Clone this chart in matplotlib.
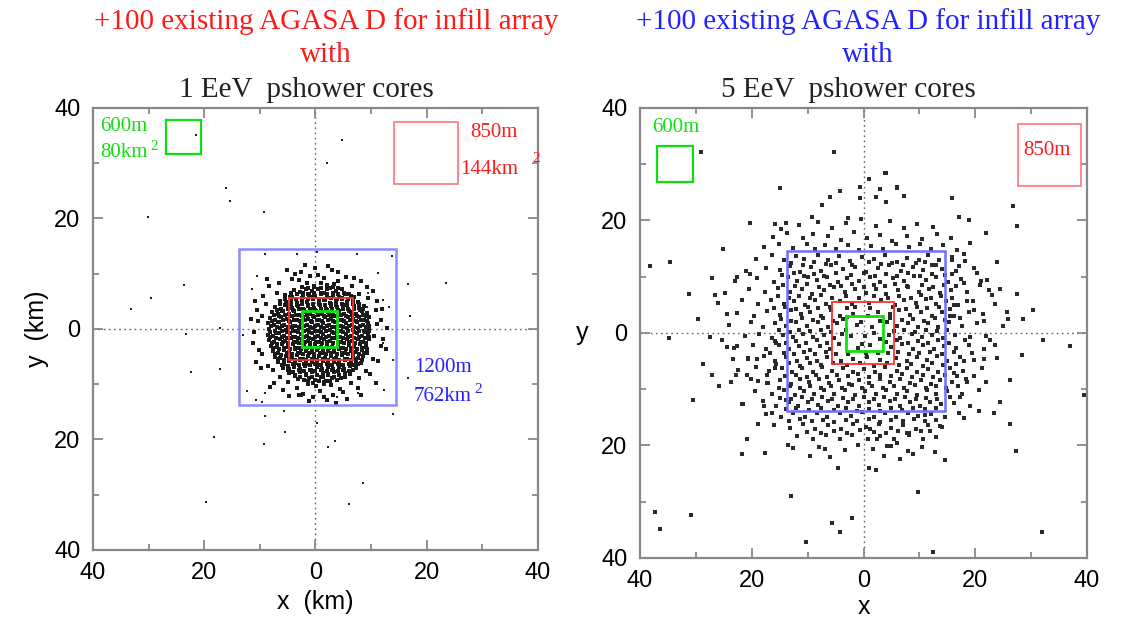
import numpy as np
import matplotlib.pyplot as plt
from matplotlib.patches import Rectangle
from matplotlib.ticker import FuncFormatter, MultipleLocator

# shower core positions (km)
# 1 EeV panel: dense blob near the centre + a few far ones
core_1eev = [
    (-1.6, 8.3), (-0.3, 7.8), (0.9, 8.4), (2.1, 7.9), (3.3, 8.2), (-4.2, 9.1), (5.5, 9.4), (0.4, 9.8), (-2.6, 10.3), (2.9, 10.6),
    (-3.0, 8.9), (1.6, 9.2), (4.0, 8.7), (-1.0, 9.5),
    (-3.9, 7.1), (-2.8, 6.7), (-1.7, 7.3), (-0.6, 6.8), (0.5, 7.2), (1.5, 6.6), (2.6, 7.4), (3.7, 6.9), (4.8, 7.2), (6.6, 7.7),
    (-5.4, 6.1), (-4.3, 5.8), (-3.3, 6.3), (-2.2, 5.7), (-1.2, 6.2), (-0.1, 5.9), (1.0, 6.4), (2.0, 5.8), (3.1, 6.2), (4.2, 5.7),
    (5.3, 6.3), (6.4, 5.9), (7.9, 6.4), (-7.0, 6.6),
    (-6.4, 5.1), (-5.3, 4.8), (-4.4, 5.3), (-3.4, 4.7), (-2.5, 5.2), (-1.5, 4.9), (-0.5, 5.4), (0.6, 4.8), (1.6, 5.2), (2.6, 4.7),
    (3.7, 5.1), (4.7, 5.4), (5.7, 4.8), (6.8, 5.2), (7.7, 4.9), (9.4, 5.6),
    (-7.2, 4.0), (-6.2, 3.7), (-5.2, 4.3), (-4.2, 3.8), (-3.2, 4.2), (-2.3, 3.6), (-1.3, 4.1), (-0.3, 3.8), (0.8, 4.3), (1.8, 3.7),
    (2.8, 4.2), (3.9, 3.9), (4.9, 4.3), (5.9, 3.7), (6.9, 4.1), (7.9, 3.8), (8.8, 4.2), (-8.9, 4.5),
    (-7.8, 3.0), (-6.8, 2.7), (-5.8, 3.2), (-4.8, 2.8), (-3.9, 3.3), (-2.9, 2.6), (-1.9, 3.1), (-0.9, 2.8), (0.1, 3.2), (1.1, 2.7),
    (2.2, 3.1), (3.2, 2.6), (4.2, 3.2), (5.2, 2.8), (6.3, 3.1), (7.3, 2.7), (8.3, 3.2), (9.2, 2.9), (-9.6, 2.4), (10.8, 3.4),
    (-8.1, 2.0), (-7.2, 1.7), (-6.2, 2.2), (-5.2, 1.8), (-4.3, 2.3), (-3.3, 1.6), (-2.3, 2.1), (-1.3, 1.8), (-0.3, 2.2), (0.7, 1.7),
    (1.7, 2.1), (2.7, 1.8), (3.8, 2.3), (4.8, 1.6), (5.8, 2.1), (6.8, 1.8), (7.8, 2.2), (8.8, 1.7), (9.6, 2.1),
    (-8.5, 1.0), (-7.5, 0.7), (-6.5, 1.2), (-5.6, 0.8), (-4.6, 1.3), (-3.6, 0.6), (-2.6, 1.1), (-1.6, 0.8), (-0.6, 1.2), (0.4, 0.7),
    (1.4, 1.1), (2.4, 0.8), (3.5, 1.3), (4.5, 0.6), (5.5, 1.1), (6.5, 0.8), (7.5, 1.2), (8.5, 0.7), (9.5, 1.0), (-10.3, 1.5), (11.1, 0.9),
    (-8.3, 0.0), (-7.3, -0.3), (-6.3, 0.2), (-5.3, -0.2), (-4.3, 0.3), (-3.4, -0.4), (-2.4, 0.1), (-1.4, -0.2), (-0.4, 0.2), (0.6, -0.3),
    (1.6, 0.1), (2.6, -0.2), (3.6, 0.3), (4.6, -0.4), (5.7, 0.1), (6.7, -0.2), (7.7, 0.2), (8.7, -0.3), (9.7, 0.1),
    (-8.6, -1.0), (-7.6, -1.3), (-6.6, -0.8), (-5.6, -1.2), (-4.6, -0.7), (-3.6, -1.4), (-2.6, -0.9), (-1.6, -1.2), (-0.6, -0.8), (0.4, -1.3),
    (1.4, -0.9), (2.4, -1.2), (3.4, -0.7), (4.4, -1.4), (5.4, -0.9), (6.4, -1.2), (7.4, -0.8), (8.4, -1.3), (9.4, -0.9), (10.6, -1.2),
    (-8.4, -2.0), (-7.4, -2.3), (-6.4, -1.8), (-5.4, -2.2), (-4.4, -1.7), (-3.4, -2.4), (-2.4, -1.9), (-1.4, -2.2), (-0.4, -1.8), (0.6, -2.3),
    (1.6, -1.9), (2.6, -2.2), (3.6, -1.7), (4.6, -2.4), (5.6, -1.9), (6.6, -2.2), (7.6, -1.8), (8.6, -2.3), (9.6, -1.9), (-11.2, -2.5),
    (-8.0, -3.0), (-7.0, -3.3), (-6.0, -2.8), (-5.0, -3.2), (-4.0, -2.7), (-3.0, -3.4), (-2.0, -2.9), (-1.0, -3.2), (0.0, -2.8), (1.0, -3.3),
    (2.0, -2.9), (3.0, -3.2), (4.0, -2.7), (5.0, -3.4), (6.0, -2.9), (7.0, -3.2), (8.0, -2.8), (9.0, -3.3), (11.8, -3.1),
    (-7.7, -4.0), (-6.7, -4.3), (-5.7, -3.8), (-4.7, -4.2), (-3.7, -3.7), (-2.7, -4.4), (-1.7, -3.9), (-0.7, -4.2), (0.3, -3.8), (1.3, -4.3),
    (2.3, -3.9), (3.3, -4.2), (4.3, -3.7), (5.3, -4.4), (6.3, -3.9), (7.3, -4.2), (8.3, -3.8), (9.2, -4.3), (-9.6, -4.6),
    (-7.3, -5.0), (-6.3, -5.3), (-5.3, -4.8), (-4.3, -5.2), (-3.3, -4.7), (-2.3, -5.4), (-1.3, -4.9), (-0.3, -5.2), (0.7, -4.8), (1.7, -5.3),
    (2.7, -4.9), (3.7, -5.2), (4.7, -4.7), (5.7, -5.4), (6.7, -4.9), (7.7, -5.2), (8.6, -4.8), (10.3, -5.5),
    (-6.7, -6.0), (-5.7, -6.3), (-4.7, -5.8), (-3.7, -6.2), (-2.7, -5.7), (-1.7, -6.4), (-0.7, -5.9), (0.3, -6.2), (1.3, -5.8), (2.3, -6.3),
    (3.3, -5.9), (4.3, -6.2), (5.3, -5.7), (6.3, -6.4), (7.3, -5.9), (8.1, -6.2), (-8.6, -6.7),
    (-5.8, -7.0), (-4.8, -7.3), (-3.8, -6.8), (-2.8, -7.2), (-1.8, -6.7), (-0.8, -7.4), (0.2, -6.9), (1.2, -7.2), (2.2, -6.8), (3.2, -7.3),
    (4.2, -6.9), (5.2, -7.2), (6.2, -6.7), (7.2, -7.1), (9.0, -7.6), (-7.6, -7.5),
    (-4.7, -8.0), (-3.7, -8.3), (-2.7, -7.8), (-1.7, -8.2), (-0.7, -7.7), (0.3, -8.4), (1.3, -7.9), (2.3, -8.2), (3.3, -7.8), (4.3, -8.3),
    (5.3, -7.9), (6.2, -8.1), (-6.3, -8.6), (7.8, -8.8),
    (-3.1, -9.0), (-2.1, -9.3), (-1.1, -8.8), (-0.1, -9.2), (0.9, -8.7), (1.9, -9.4), (2.9, -8.9), (3.9, -9.2), (4.6, -8.8), (-5.0, -9.6), (6.3, -9.7),
    (-1.3, -10.0), (0.1, -10.3), (1.5, -9.9), (2.8, -10.2), (-3.3, -10.6), (4.4, -10.8), (0.8, -11.3), (-2.2, -11.7), (3.2, -11.9),
    (-0.5, -12.4), (2.0, -12.8), (-4.8, -12.2), (5.6, -12.6),
]
# second pass between the rows above (the blob is very crowded)
core_1eev_fill = [
    (-2.4, 7.6), (-1.3, 7.4), (-0.2, 7.6), (1.0, 7.5), (2.1, 7.3), (3.2, 7.6), (4.1, 7.5),
    (-4.4, 6.5), (-3.3, 6.4), (-2.3, 6.6), (-1.3, 6.4), (-0.2, 6.6), (0.9, 6.5), (2.0, 6.3), (3.1, 6.6), (4.1, 6.4), (5.2, 6.6), (6.0, 6.4),
    (-5.5, 5.5), (-4.5, 5.7), (-3.5, 5.4), (-2.5, 5.6), (-1.4, 5.4), (-0.4, 5.7), (0.7, 5.5), (1.7, 5.3), (2.8, 5.6), (3.8, 5.4),
    (4.8, 5.6), (5.9, 5.5), (6.9, 5.7),
    (-6.4, 4.5), (-5.4, 4.3), (-4.4, 4.6), (-3.4, 4.4), (-2.4, 4.6), (-1.4, 4.4), (-0.4, 4.6), (0.7, 4.5), (1.7, 4.3), (2.7, 4.6),
    (3.7, 4.4), (4.7, 4.6), (5.7, 4.4), (6.7, 4.6), (7.8, 4.5),
    (-7.0, 3.5), (-6.0, 3.3), (-5.0, 3.6), (-4.0, 3.4), (-3.0, 3.6), (-2.0, 3.4), (-1.0, 3.6), (0.0, 3.4), (1.0, 3.6), (2.0, 3.4),
    (3.0, 3.6), (4.0, 3.4), (5.0, 3.6), (6.0, 3.3), (7.0, 3.6), (8.0, 3.4), (8.6, 3.6),
    (-7.5, 2.5), (-6.5, 2.3), (-5.5, 2.6), (-4.5, 2.4), (-3.5, 2.6), (-2.5, 2.4), (-1.5, 2.6), (-0.5, 2.4), (0.5, 2.6), (1.5, 2.4),
    (2.5, 2.6), (3.5, 2.4), (4.5, 2.6), (5.5, 2.4), (6.5, 2.6), (7.5, 2.4), (8.5, 2.6), (9.1, 2.4),
    (-7.8, 1.5), (-6.8, 1.3), (-5.8, 1.6), (-4.8, 1.4), (-3.8, 1.6), (-2.8, 1.4), (-1.8, 1.6), (-0.8, 1.4), (0.2, 1.6), (1.2, 1.4),
    (2.2, 1.6), (3.2, 1.4), (4.2, 1.6), (5.2, 1.4), (6.2, 1.6), (7.2, 1.4), (8.2, 1.6), (9.2, 1.4),
    (-8.0, 0.5), (-7.0, 0.3), (-6.0, 0.6), (-5.0, 0.4), (-4.0, 0.6), (-3.0, 0.4), (-2.0, 0.6), (-1.0, 0.4), (0.0, 0.6), (1.0, 0.4),
    (2.0, 0.6), (3.0, 0.4), (4.0, 0.6), (5.0, 0.4), (6.0, 0.6), (7.0, 0.4), (8.0, 0.6), (9.0, 0.4), (9.6, 0.6),
    (-8.1, -0.5), (-7.1, -0.7), (-6.1, -0.4), (-5.1, -0.6), (-4.1, -0.4), (-3.1, -0.6), (-2.1, -0.4), (-1.1, -0.6), (-0.1, -0.4), (0.9, -0.6),
    (1.9, -0.4), (2.9, -0.6), (3.9, -0.4), (4.9, -0.6), (5.9, -0.4), (6.9, -0.6), (7.9, -0.4), (8.9, -0.6), (9.7, -0.4),
    (-8.1, -1.5), (-7.1, -1.7), (-6.1, -1.4), (-5.1, -1.6), (-4.1, -1.4), (-3.1, -1.6), (-2.1, -1.4), (-1.1, -1.6), (-0.1, -1.4), (0.9, -1.6),
    (1.9, -1.4), (2.9, -1.6), (3.9, -1.4), (4.9, -1.6), (5.9, -1.4), (6.9, -1.6), (7.9, -1.4), (8.9, -1.6), (9.7, -1.4),
    (-7.9, -2.5), (-6.9, -2.7), (-5.9, -2.4), (-4.9, -2.6), (-3.9, -2.4), (-2.9, -2.6), (-1.9, -2.4), (-0.9, -2.6), (0.1, -2.4), (1.1, -2.6),
    (2.1, -2.4), (3.1, -2.6), (4.1, -2.4), (5.1, -2.6), (6.1, -2.4), (7.1, -2.6), (8.1, -2.4), (9.1, -2.6),
    (-7.6, -3.5), (-6.6, -3.7), (-5.6, -3.4), (-4.6, -3.6), (-3.6, -3.4), (-2.6, -3.6), (-1.6, -3.4), (-0.6, -3.6), (0.4, -3.4), (1.4, -3.6),
    (2.4, -3.4), (3.4, -3.6), (4.4, -3.4), (5.4, -3.6), (6.4, -3.4), (7.4, -3.6), (8.4, -3.4), (9.2, -3.6),
    (-7.2, -4.5), (-6.2, -4.7), (-5.2, -4.4), (-4.2, -4.6), (-3.2, -4.4), (-2.2, -4.6), (-1.2, -4.4), (-0.2, -4.6), (0.8, -4.4), (1.8, -4.6),
    (2.8, -4.4), (3.8, -4.6), (4.8, -4.4), (5.8, -4.6), (6.8, -4.4), (7.8, -4.6), (8.8, -4.4),
    (-6.7, -5.5), (-5.7, -5.7), (-4.7, -5.4), (-3.7, -5.6), (-2.7, -5.4), (-1.7, -5.6), (-0.7, -5.4), (0.3, -5.6), (1.3, -5.4), (2.3, -5.6),
    (3.3, -5.4), (4.3, -5.6), (5.3, -5.4), (6.3, -5.6), (7.3, -5.4), (8.3, -5.6),
    (-6.0, -6.5), (-5.0, -6.7), (-4.0, -6.4), (-3.0, -6.6), (-2.0, -6.4), (-1.0, -6.6), (0.0, -6.4), (1.0, -6.6), (2.0, -6.4), (3.0, -6.6),
    (4.0, -6.4), (5.0, -6.6), (6.0, -6.4), (7.0, -6.6), (7.7, -6.4),
    (-5.0, -7.5), (-4.0, -7.7), (-3.0, -7.4), (-2.0, -7.6), (-1.0, -7.4), (0.0, -7.6), (1.0, -7.4), (2.0, -7.6), (3.0, -7.4), (4.0, -7.6),
    (5.0, -7.4), (6.0, -7.6), (6.7, -7.4),
    (-3.7, -8.5), (-2.7, -8.7), (-1.7, -8.4), (-0.7, -8.6), (0.3, -8.4), (1.3, -8.6), (2.3, -8.4), (3.3, -8.6), (4.3, -8.4), (5.3, -8.6),
    (-1.4, -9.5), (-0.4, -9.7), (0.6, -9.4), (1.6, -9.6), (2.6, -9.4),
]
# thinner fringe round the blob
edge_1eev = [
    (-9.5, 6.0), (-10.5, 3.5), (-11.0, -0.5), (-10.2, -3.8), (-9.8, -7.0), (-7.5, -9.8), (-5.8, -11.0), (-3.0, -11.9), (1.5, -12.3),
    (5.0, -11.4), (7.6, -10.6), (9.8, -8.2), (11.2, -5.8), (12.2, -1.8), (11.8, 1.6), (11.0, 5.0), (9.3, 7.6), (7.0, 9.3), (4.0, 10.4),
    (0.0, 11.0), (-3.7, 10.0), (-6.5, 8.3), (-8.3, 7.7), (-10.8, 5.0), (-11.6, 1.8), (-10.7, -6.0), (-8.2, -10.5), (-1.2, -13.0),
    (3.6, -13.4), (8.2, -11.9), (10.9, -9.8), (12.6, -3.7), (12.8, 0.2), (12.0, 3.6), (10.4, 6.8), (8.2, 8.6), (2.2, 11.4),
    (-1.8, 11.6), (-5.2, 10.6), (-8.8, 9.0),
]
far_1eev = [
    (-21.5, 35.2), (4.7, 34.2), (2.1, 30.0), (-16.1, 25.6), (-15.3, 23.2), (-9.3, 21.2), (-30.2, 20.2),
    (-23.6, 8.0), (-29.6, 5.6), (-33.1, 3.7), (16.6, 8.2), (23.5, 8.3), (11.2, 10.1), (17.0, 2.4), (-17.2, 0.2),
    (-23.3, -0.9), (-22.3, -7.7), (-17.2, -7.3), (16.7, -8.9), (12.4, -11.0), (-9.1, -15.7), (-5.7, -14.8),
    (-5.4, -18.7), (-18.2, -19.5), (-9.3, -20.8), (2.3, -21.4), (3.5, -20.3), (0.2, -17.1), (14.0, -15.3),
    (8.5, -27.9), (-19.7, -31.4), (6.1, -31.7),
    (-12.4, -11.2), (-10.7, -12.9), (-9.7, -13.2), (-9.1, -11.5), (-2.5, -12.1), (3.8, -12.4), (7.7, -11.5),
    (13.9, -5.6), (12.2, -2.5), (-13.0, -1.1), (-9.1, 13.6), (-3.4, 13.6), (0.2, 14.0), (7.5, 13.6), (13.7, 13.2),
    (-10.6, 9.5), (-11.5, 7.2), (12.2, 5.2), (9.5, 6.6), (13.2, 3.9), (9.2, 3.9),
]

# 5 EeV panel: wide spread
core_5eev = [
    (-11.5, 19.2), (-8.2, 19.8), (-5.6, 18.7), (-3.1, 19.5), (-0.4, 20.3), (2.2, 19.0), (4.8, 19.9), (7.3, 18.6), (9.6, 19.4), (12.5, 18.9), (-14.8, 18.4),
    (-16.2, 17.1), (-13.7, 17.8), (-10.9, 16.9), (-9.1, 17.6), (-6.4, 17.2), (-4.0, 16.6), (-1.7, 17.9), (0.6, 16.8), (2.9, 17.5), (5.1, 16.4),
    (7.8, 17.3), (10.4, 16.7), (13.2, 17.6), (15.6, 16.9),
    (-17.8, 15.3), (-15.1, 15.9), (-12.6, 15.1), (-10.2, 15.8), (-8.7, 14.9), (-6.9, 15.6), (-5.0, 15.0), (-2.8, 15.7), (-0.9, 14.8), (1.3, 15.5),
    (3.5, 14.9), (5.8, 15.8), (8.2, 15.2), (10.1, 15.9), (12.0, 15.0), (14.3, 15.6), (16.8, 14.7),
    (-19.3, 13.2), (-16.4, 13.8), (-14.2, 12.9), (-12.0, 13.7), (-10.6, 13.1), (-8.1, 13.9), (-6.3, 13.0), (-4.4, 13.6), (-2.5, 12.8), (-0.3, 13.5),
    (1.8, 13.1), (3.9, 13.9), (6.0, 12.7), (7.7, 13.4), (9.9, 12.9), (11.6, 13.8), (13.5, 13.0), (15.8, 13.5), (18.2, 12.8),
    (-21.0, 11.0), (-17.5, 11.6), (-15.0, 11.2), (-13.1, 11.9), (-11.3, 10.9), (-9.4, 11.7), (-7.6, 11.1), (-5.8, 12.0), (-3.7, 11.3), (-1.5, 11.8),
    (0.4, 10.8), (2.6, 11.5), (4.5, 12.1), (6.7, 11.0), (8.8, 11.8), (10.7, 11.2), (12.3, 12.0), (14.0, 11.4), (16.5, 11.0), (19.8, 11.6),
    (-23.0, 9.3), (-19.0, 9.8), (-16.1, 9.1), (-13.6, 9.9), (-11.9, 9.2), (-10.0, 10.0), (-8.3, 9.4), (-6.5, 9.9), (-4.6, 9.0), (-2.9, 9.7),
    (-0.8, 9.3), (1.1, 10.0), (3.0, 9.1), (5.2, 9.8), (7.3, 9.2), (9.1, 10.1), (11.1, 9.4), (13.0, 9.9), (15.1, 9.0), (17.4, 9.6), (21.0, 9.2),
    (-24.8, 7.1), (-20.5, 7.8), (-17.6, 7.3), (-15.3, 8.0), (-13.2, 7.2), (-11.0, 7.9), (-9.2, 7.0), (-7.1, 7.7), (-5.3, 8.1), (-3.4, 7.2),
    (-1.6, 7.9), (0.5, 7.1), (2.3, 7.8), (4.0, 7.0), (6.1, 7.6), (8.0, 8.1), (9.9, 7.3), (11.8, 7.9), (13.6, 7.1), (15.7, 7.7), (18.6, 7.2), (22.4, 7.6),
    (-26.0, 5.3), (-21.8, 5.9), (-18.9, 5.2), (-16.6, 5.8), (-14.3, 5.1), (-12.4, 5.7), (-10.5, 5.0), (-8.6, 5.9), (-6.7, 5.2), (-4.2, 5.7),
    (-2.0, 5.1), (0.9, 5.4), (3.1, 5.8), (5.7, 5.0), (7.2, 5.9), (9.3, 5.3), (11.2, 6.0), (12.9, 5.1), (14.8, 5.6), (16.9, 5.0), (19.5, 5.7), (23.6, 5.2),
    (-22.6, 3.6), (-19.6, 3.1), (-17.2, 3.9), (-15.0, 3.2), (-13.0, 4.0), (-11.2, 3.3), (-9.5, 3.8), (-7.7, 3.1), (-5.9, 4.0), (-4.3, 3.0),
    (4.7, 3.3), (6.4, 4.0), (8.4, 3.2), (10.3, 3.8), (12.2, 3.0), (14.1, 3.7), (16.2, 3.1), (18.9, 3.8), (21.3, 3.3),
    (-24.0, 1.4), (-20.2, 1.9), (-18.0, 1.1), (-15.9, 1.8), (-13.9, 1.2), (-12.0, 2.0), (-10.1, 1.3), (-8.2, 1.9), (-6.4, 1.0), (-4.7, 1.7),
    (-1.2, 1.5), (1.6, 1.0), (4.2, 1.9), (6.0, 1.2), (7.9, 1.8), (9.8, 1.0), (11.6, 1.7), (13.4, 1.1), (15.3, 1.9), (17.6, 1.3), (20.3, 1.8), (25.0, 1.2),
    (-21.2, -0.6), (-18.7, -0.2), (-16.3, -0.9), (-14.5, -0.3), (-12.7, -0.8), (-10.8, -0.1), (-9.0, -0.7), (-7.1, -0.3), (-5.3, -0.9), (-3.8, -0.2),
    (0.2, -0.6), (4.6, -0.4), (6.6, -0.9), (8.6, -0.2), (10.4, -0.8), (12.3, -0.3), (14.2, -0.9), (16.4, -0.4), (19.0, -0.8), (22.0, -0.5),
    (-23.2, -2.6), (-19.8, -2.1), (-17.4, -2.8), (-15.2, -2.2), (-13.3, -2.9), (-11.5, -2.3), (-9.6, -3.0), (-7.8, -2.4), (-6.0, -2.9), (-4.4, -2.0),
    (-1.0, -2.7), (1.1, -2.2), (4.9, -2.5), (6.9, -2.0), (8.8, -2.8), (10.7, -2.2), (12.6, -2.9), (14.4, -2.4), (16.6, -2.7), (18.8, -2.1), (21.6, -2.8),
    (-20.6, -4.6), (-17.9, -4.1), (-15.8, -4.9), (-13.8, -4.3), (-11.9, -5.0), (-10.2, -4.4), (-8.4, -4.9), (-6.6, -4.2), (-4.1, -5.0), (-1.8, -4.6),
    (0.7, -4.3), (2.9, -4.8), (5.8, -4.5), (7.7, -5.0), (9.5, -4.2), (11.4, -4.8), (13.1, -4.1), (15.0, -4.9), (17.2, -4.3), (19.7, -4.8), (23.8, -4.4),
    (-22.4, -6.6), (-19.2, -6.1), (-16.9, -6.8), (-14.6, -6.2), (-12.8, -7.0), (-11.0, -6.3), (-9.1, -6.9), (-7.4, -6.1), (-5.6, -6.8), (-3.7, -6.2),
    (-1.9, -7.0), (0.0, -6.4), (2.1, -6.9), (3.9, -6.1), (5.9, -6.7), (7.8, -6.2), (9.6, -7.0), (11.5, -6.4), (13.3, -6.9), (15.4, -6.3), (17.8, -6.8), (21.2, -6.2),
    (-23.8, -8.7), (-20.1, -8.2), (-17.1, -8.9), (-15.0, -8.3), (-13.0, -9.0), (-11.4, -8.2), (-9.7, -8.8), (-8.0, -8.1), (-6.2, -8.9), (-4.4, -8.3),
    (-2.6, -9.0), (-0.8, -8.4), (1.0, -8.9), (2.9, -8.2), (4.8, -8.8), (6.6, -8.1), (8.4, -8.9), (10.2, -8.3), (12.0, -9.0), (13.7, -8.4), (15.9, -8.8),
    (18.4, -8.2), (21.9, -8.7),
    (-19.4, -10.4), (-16.4, -10.9), (-14.2, -10.2), (-12.3, -11.0), (-10.6, -10.3), (-8.8, -10.9), (-7.0, -10.1), (-5.2, -10.8), (-3.4, -10.2), (-1.6, -11.0),
    (0.3, -10.3), (2.2, -10.9), (4.0, -10.1), (5.9, -10.8), (7.7, -10.3), (9.5, -11.0), (11.3, -10.2), (13.0, -10.9), (14.9, -10.4), (17.6, -10.8), (20.7, -10.2),
    (-21.6, -12.6), (-18.0, -12.1), (-15.6, -12.9), (-13.4, -12.3), (-11.7, -13.0), (-9.9, -12.2), (-8.2, -12.8), (-6.4, -12.1), (-4.6, -12.9), (-2.8, -12.3),
    (-0.9, -13.0), (1.0, -12.2), (2.8, -12.8), (4.7, -12.1), (6.5, -12.9), (8.3, -12.3), (10.1, -13.0), (11.9, -12.2), (13.8, -12.7), (16.2, -12.4), (19.0, -12.9),
    (-17.4, -14.4), (-14.8, -14.9), (-12.6, -14.2), (-10.4, -15.0), (-8.4, -14.3), (-6.5, -14.9), (-4.3, -14.2), (-2.2, -14.8), (-0.2, -14.1), (1.9, -14.9),
    (3.9, -14.3), (5.8, -15.0), (7.9, -14.2), (9.8, -14.8), (12.0, -14.4), (14.6, -14.9), (17.0, -14.2),
    (-16.0, -16.3), (-13.2, -16.9), (-10.9, -16.2), (-8.6, -17.0), (-6.3, -16.4), (-4.0, -17.1), (-1.8, -16.2), (0.5, -16.8), (2.7, -16.1), (4.9, -16.9),
    (7.1, -16.3), (9.4, -17.0), (11.6, -16.4), (14.1, -16.8),
    (-11.9, -18.4), (-9.0, -18.9), (-6.8, -18.2), (-4.2, -18.8), (-2.0, -18.1), (0.8, -18.9), (3.0, -18.3), (5.5, -18.8), (8.1, -18.2), (10.7, -18.9), (12.9, -18.5),
    (-8.0, -20.2), (-3.4, -20.8), (-1.0, -19.9), (1.7, -20.6), (5.0, -20.1), (8.0, -20.9), (10.4, -20.3),
]
# second, interleaved pass over the 1200m box
core_5eev_fill = [
    (-13.0, 12.4), (-10.9, 12.1), (-8.9, 12.6), (-6.8, 12.2), (-4.9, 12.5), (-2.0, 12.0), (0.9, 12.6), (3.1, 12.2), (5.1, 12.5), (7.0, 12.0),
    (9.3, 12.4), (11.0, 12.7), (13.0, 12.1),
    (-14.6, 10.3), (-12.5, 10.6), (-10.7, 10.1), (-8.9, 10.5), (-7.0, 10.2), (-5.0, 10.7), (-2.2, 10.3), (0.0, 10.6), (2.0, 10.2), (4.1, 10.5),
    (6.0, 10.1), (8.0, 10.6), (10.1, 10.2), (12.2, 10.5), (14.5, 10.3),
    (-14.4, 8.6), (-12.2, 8.3), (-10.1, 8.7), (-8.0, 8.2), (-6.0, 8.5), (-4.0, 8.3), (-2.1, 8.7), (0.0, 8.2), (1.9, 8.6), (3.8, 8.3),
    (5.7, 8.7), (7.7, 8.4), (10.4, 8.6), (12.4, 8.2), (14.4, 8.5), (16.5, 8.3),
    (-15.3, 6.5), (-13.4, 6.2), (-11.5, 6.6), (-9.6, 6.3), (-7.7, 6.7), (-5.7, 6.2), (-3.2, 6.6), (-0.9, 6.3), (1.9, 6.5), (4.3, 6.2),
    (6.3, 6.6), (8.5, 6.3), (10.2, 6.7), (12.0, 6.2), (13.9, 6.5), (15.9, 6.3),
    (-16.0, 4.4), (-14.1, 4.7), (-12.0, 4.3), (-10.0, 4.6), (-8.1, 4.4), (-6.0, 4.7), (-3.0, 4.4), (5.3, 4.6), (7.6, 4.3), (9.6, 4.7),
    (11.4, 4.4), (13.5, 4.6), (15.5, 4.3),
    (-14.8, 2.5), (-13.0, 2.2), (-11.0, 2.6), (-9.0, 2.3), (-7.2, 2.6), (-5.4, 2.2), (-3.6, 2.5), (4.8, 2.6), (6.9, 2.3), (8.9, 2.5),
    (10.9, 2.2), (12.7, 2.6), (14.6, 2.3),
    (-15.2, 0.5), (-13.1, 0.2), (-11.5, 0.6), (-9.6, 0.3), (-7.6, 0.6), (-5.8, 0.2), (-3.2, 0.5), (5.5, 0.4), (7.3, 0.6), (9.2, 0.2),
    (11.1, 0.5), (13.2, 0.3), (15.0, 0.6),
    (-1.9, 3.4), (0.8, 3.0), (2.6, 3.7), (-3.0, 2.8), (-0.5, 1.9), (2.9, 2.2), (1.8, 0.0), (-2.3, -0.5), (-1.6, 4.6), (1.2, 4.4),
    (3.0, -1.0), (-0.2, -2.0), (2.6, -3.6), (-2.8, -3.8), (0.5, -3.5),
    (-15.9, -1.5), (-13.9, -1.8), (-12.0, -1.4), (-10.3, -1.7), (-8.4, -1.3), (-6.6, -1.8), (4.1, -1.6), (6.0, -1.3), (7.9, -1.8), (9.7, -1.4),
    (11.5, -1.7), (13.3, -1.3), (15.3, -1.8),
    (-14.3, -3.5), (-12.4, -3.8), (-10.6, -3.4), (-8.7, -3.7), (-6.8, -3.3), (-4.9, -3.8), (4.3, -3.6), (6.2, -3.3), (8.1, -3.8), (10.0, -3.5),
    (11.9, -3.3), (14.1, -3.7), (16.2, -3.4),
    (-15.6, -5.6), (-13.3, -5.3), (-11.4, -5.8), (-9.5, -5.4), (-7.6, -5.7), (-5.5, -5.3), (-2.9, -5.7), (-0.6, -5.4), (1.8, -5.8), (4.2, -5.3),
    (6.4, -5.7), (8.5, -5.5), (10.6, -5.8), (12.3, -5.4), (14.3, -5.7), (16.5, -5.5),
    (-14.0, -7.7), (-12.0, -7.4), (-10.2, -7.8), (-8.5, -7.5), (-6.6, -7.8), (-4.8, -7.4), (-2.8, -7.7), (-1.0, -7.3), (1.0, -7.8), (2.9, -7.4),
    (4.9, -7.7), (6.8, -7.3), (8.7, -7.8), (10.6, -7.5), (12.5, -7.8), (14.5, -7.4), (16.7, -7.7),
    (-15.2, -9.7), (-13.2, -9.4), (-11.3, -9.8), (-9.5, -9.5), (-7.6, -9.8), (-5.8, -9.4), (-3.9, -9.7), (-2.1, -9.3), (-0.2, -9.8), (1.6, -9.5),
    (3.5, -9.8), (5.4, -9.4), (7.3, -9.7), (9.2, -9.3), (11.1, -9.8), (12.9, -9.5), (14.8, -9.7), (16.9, -9.4),
    (-14.9, -11.5), (-13.0, -11.8), (-11.1, -11.4), (-9.2, -11.7), (-7.4, -11.3), (-5.6, -11.8), (-3.7, -11.5), (-1.9, -11.7), (0.0, -11.4), (1.9, -11.8),
    (3.7, -11.4), (5.6, -11.7), (7.5, -11.3), (9.3, -11.8), (11.2, -11.5), (13.1, -11.7), (15.4, -11.4),
    (-13.9, -13.6), (-12.0, -13.3), (-9.8, -13.7), (-7.6, -13.4), (-5.3, -13.7), (-3.2, -13.3), (-1.2, -13.8), (0.9, -13.5), (3.0, -13.8), (5.0, -13.4),
    (6.9, -13.7), (8.9, -13.3), (11.0, -13.6), (13.0, -13.4),
    (-13.4, -15.6), (-11.4, -15.3), (-9.2, -15.7), (-7.3, -15.4), (-5.2, -15.8), (-3.1, -15.4), (-1.1, -15.7), (1.0, -15.3), (3.0, -15.8), (5.0, -15.4),
    (7.0, -15.7), (9.1, -15.3), (11.0, -15.6), (12.9, -15.4),
    (-10.2, -17.6), (-7.6, -17.8), (-5.3, -17.4), (-2.9, -17.7), (-0.6, -17.3), (1.8, -17.6), (4.0, -17.8), (6.1, -17.4), (8.2, -17.7), (10.3, -17.5),
]
far_5eev = [
    (-29.0, 32.1), (-5.3, 32.2), (-15.0, 25.8), (-20.3, 19.6), (-25.2, 15.0), (-34.6, 12.7), (-38.2, 11.9), (-31.2, 6.9),
    (-27.2, 9.7), (-29.6, 2.5), (-24.4, 3.3), (-22.7, 9.9), (-20.3, 10.5), (-26.6, 6.8), (-15.8, 19.3), (-13.8, 19.6),
    (-9.3, 20.7), (-7.5, 22.8), (-6.0, 24.1), (-4.2, 25.3), (-2.7, 20.4), (3.8, 28.5), (5.9, 25.9), (1.0, 27.4), (-0.7, 25.9), (-0.7, 24.0),
    (4.1, 28.4), (2.9, 25.6), (6.0, 25.8), (7.3, 24.4), (2.3, 24.1), (4.1, 23.2), (15.8, 24.0), (26.8, 22.5), (27.5, 19.0),
    (17.0, 20.6), (18.8, 20.1), (21.9, 17.7), (19.1, 16.0), (23.9, 12.6), (24.4, 7.9), (23.0, 6.8), (30.4, 4.1), (25.6, 3.7),
    (25.9, 2.4), (28.6, 2.5), (27.5, 6.9), (20.9, 8.6), (22.1, 9.5), (20.3, 10.7), (17.9, 14.0), (17.0, 11.9), (15.8, 13.0),
    (15.8, 10.4), (17.9, 8.9), (18.5, 5.6), (16.1, 5.0), (19.7, 4.1), (21.5, 2.1), (17.3, 2.7), (15.4, 3.0),
    (-34.8, -0.9), (-37.3, -31.9), (-36.4, -34.8), (-30.9, -32.3), (-12.9, -28.9), (-5.7, -33.7), (-4.3, -35.4), (-2.0, -32.9),
    (-10.3, -37.2), (-4.5, -24.0), (-30.6, -12.0), (-28.7, -5.5), (-25.8, -9.5), (-27.2, -7.4), (-22.8, -7.4), (-20.9, -7.4),
    (-21.8, -12.7), (-20.8, -18.8), (-21.8, -21.5), (-17.6, -21.3), (-18.8, -16.1), (-13.5, -19.9), (-12.6, -20.4), (-9.5, -21.8),
    (-6.9, -20.7), (-6.0, -22.0), (-17.9, -13.0), (-16.4, -14.2), (-20.6, -4.4), (-19.1, -4.6), (-23.4, -4.6), (-24.4, -2.5),
    (-22.7, -2.3), (-25.4, -1.2), (-27.5, -0.7), (-17.3, -7.4), (-18.8, -8.6), (-17.3, -8.9), (-15.8, -6.2), (-15.6, -1.8),
    (-16.7, -3.6), (-13.8, -11.9),
    (32.2, -1.3), (36.9, -2.4), (39.4, -11.0), (28.3, -3.9), (24.4, -12.3), (26.2, -16.1), (27.3, -21.0), (20.6, -13.9),
    (23.3, -14.2), (17.9, -15.1), (14.6, -22.6), (12.8, -21.2), (9.7, -28.3), (2.3, -24.4), (0.9, -24.0), (32.0, -35.4),
    (12.5, -39.0), (8.8, -21.5), (6.6, -22.4), (3.6, -21.9), (19.7, -7.7), (18.5, -8.8), (17.3, -11.3), (19.4, -3.6),
    (23.6, -2.1), (22.7, -1.2), (26.2, -8.3), (18.2, -1.2), (17.9, -5.0), (16.1, -7.1), (21.5, -4.7), (13.7, -16.6),
    (11.9, -17.5), (11.0, -14.5), (7.8, -17.8), (6.0, -19.6), (4.2, -20.1), (2.4, -18.8), (1.2, -17.1),
]

# array outlines (x0, x1, y0, y1) in km
box_1200 = (-13.7, 14.5, -13.8, 14.5)
box_850_1eev = (-4.7, 6.7, -5.6, 5.6)
box_600_1eev = (-2.5, 3.9, -3.2, 3.3)
box_850_5eev = (-5.6, 5.5, -5.5, 5.5)
box_600_5eev = (-3.1, 3.4, -3.2, 3.1)
# little reference squares in the corners
key_600_1eev = (-26.9, -20.6, 31.7, 37.8)
key_850_1eev = (14.1, 25.6, 26.2, 37.5)
key_600_5eev = (-36.9, -30.6, 26.9, 33.2)
key_850_5eev = (27.7, 39.0, 26.1, 37.2)

SANS = ['Liberation Sans', 'DejaVu Sans']
SERIF = ['Liberation Serif', 'DejaVu Serif']
RED, BLUE, GREEN = '#ff1a1a', '#2222ff', '#10e010'


def add_box(ax, b, color, lw):
    x0, x1, y0, y1 = b
    ax.add_patch(Rectangle((x0, y0), x1 - x0, y1 - y0, fill=False, ec=color, lw=lw, zorder=3))


def setup_axes(ax):
    ax.set_xlim(-40, 40)
    ax.set_ylim(-40, 40)
    fmt = FuncFormatter(lambda v, p: '%d' % abs(v))
    for a in (ax.xaxis, ax.yaxis):
        a.set_major_locator(MultipleLocator(20))
        a.set_minor_locator(MultipleLocator(10))
        a.set_major_formatter(fmt)
    ax.tick_params(which='both', direction='in', top=True, right=True, color='#888888', width=1.3)
    ax.tick_params(which='major', length=7, labelsize=17, pad=9)
    ax.tick_params(which='minor', length=4)
    for lab in ax.get_xticklabels() + ax.get_yticklabels():
        lab.set_family(SANS)
    for s in ax.spines.values():
        s.set_color('#888888')
        s.set_linewidth(1.6)
    ax.axhline(0, color='#666666', lw=1, ls=(0, (1.2, 2.5)), zorder=1)
    ax.axvline(0, color='#666666', lw=1, ls=(0, (1.2, 2.5)), zorder=1)


fig = plt.figure(figsize=(11.3, 6.3), dpi=100)
ax1 = fig.add_axes([0.0823, 0.127, 0.3938, 0.7016])
ax2 = fig.add_axes([0.5664, 0.1143, 0.3956, 0.7143])

# ---- left: 1 EeV
setup_axes(ax1)
c = np.array(core_1eev + core_1eev_fill + edge_1eev)
ax1.plot(c[:, 0], c[:, 1], 's', ms=2.3, mew=0, color='#1a1a1a', zorder=2)
f = np.array(far_1eev)
ax1.plot(f[:, 0], f[:, 1], 's', ms=1.8, mew=0, color='#222222', zorder=2)
add_box(ax1, box_1200, '#8c8cff', 1.8)
add_box(ax1, box_850_1eev, '#ff3030', 1.3)
add_box(ax1, box_600_1eev, GREEN, 2.0)
add_box(ax1, key_600_1eev, GREEN, 1.6)
add_box(ax1, key_850_1eev, '#ff8080', 1.3)
ax1.text(-38.7, 36.6, '600m', color=GREEN, fontsize=15, family=SERIF, va='center')
ax1.text(-38.7, 32.0, '80km', color=GREEN, fontsize=15, family=SERIF, va='center')
ax1.text(-29.6, 33.1, '2', color=GREEN, fontsize=11, family=SERIF, va='center')
ax1.text(27.8, 35.5, '850m', color=RED, fontsize=15, family=SERIF, va='center')
ax1.text(26.0, 28.8, '144km', color=RED, fontsize=15, family=SERIF, va='center')
ax1.text(39.0, 30.9, '2', color=RED, fontsize=11, family=SERIF, va='center', clip_on=False)
ax1.text(17.7, -6.9, '1200m', color=BLUE, fontsize=15, family=SERIF, va='center')
ax1.text(17.7, -12.3, '762km', color=BLUE, fontsize=15, family=SERIF, va='center')
ax1.text(28.5, -10.9, '2', color=BLUE, fontsize=11, family=SERIF, va='center')
ax1.set_xlabel('x  (km)', fontsize=18, family=SANS, labelpad=4)
ax1.set_ylabel('y  (km)', fontsize=18, family=SANS, labelpad=4)

# ---- right: 5 EeV
setup_axes(ax2)
c = np.array(core_5eev + core_5eev_fill + far_5eev)
ax2.plot(c[:, 0], c[:, 1], 's', ms=2.3, mew=0, color='#2a2a2a', zorder=2)
add_box(ax2, box_1200, '#7070ff', 1.8)
add_box(ax2, box_850_5eev, '#ff3030', 1.3)
add_box(ax2, box_600_5eev, GREEN, 2.0)
add_box(ax2, key_600_5eev, GREEN, 1.6)
add_box(ax2, key_850_5eev, '#ff8080', 1.3)
ax2.text(-37.9, 36.6, '600m', color=GREEN, fontsize=15, family=SERIF, va='center')
ax2.text(28.5, 32.4, '850m', color=RED, fontsize=15, family=SERIF, va='center')
ax2.set_xlabel('x', fontsize=18, family=SANS, labelpad=2)
ax2.set_ylabel('y', fontsize=18, family=SANS, rotation=0, labelpad=14, va='center')

# titles
fig.text(326 / 1130, 1 - 22 / 630, '+100 existing AGASA D for infill array', color=RED, fontsize=21,
         family=SERIF, ha='center', va='center')
fig.text(326 / 1130, 1 - 55 / 630, 'with', color=RED, fontsize=21, family=SERIF, ha='center', va='center')
fig.text(306 / 1130, 1 - 90 / 630, '1 EeV  pshower cores', color='#222222', fontsize=21, family=SERIF,
         ha='center', va='center')
fig.text(868 / 1130, 1 - 22 / 630, '+100 existing AGASA D for infill array', color=BLUE, fontsize=21,
         family=SERIF, ha='center', va='center')
fig.text(868 / 1130, 1 - 55 / 630, 'with', color=BLUE, fontsize=21, family=SERIF, ha='center', va='center')
fig.text(848 / 1130, 1 - 90 / 630, '5 EeV  pshower cores', color='#222222', fontsize=21, family=SERIF,
         ha='center', va='center')

fig.savefig('out.png', dpi=100)
